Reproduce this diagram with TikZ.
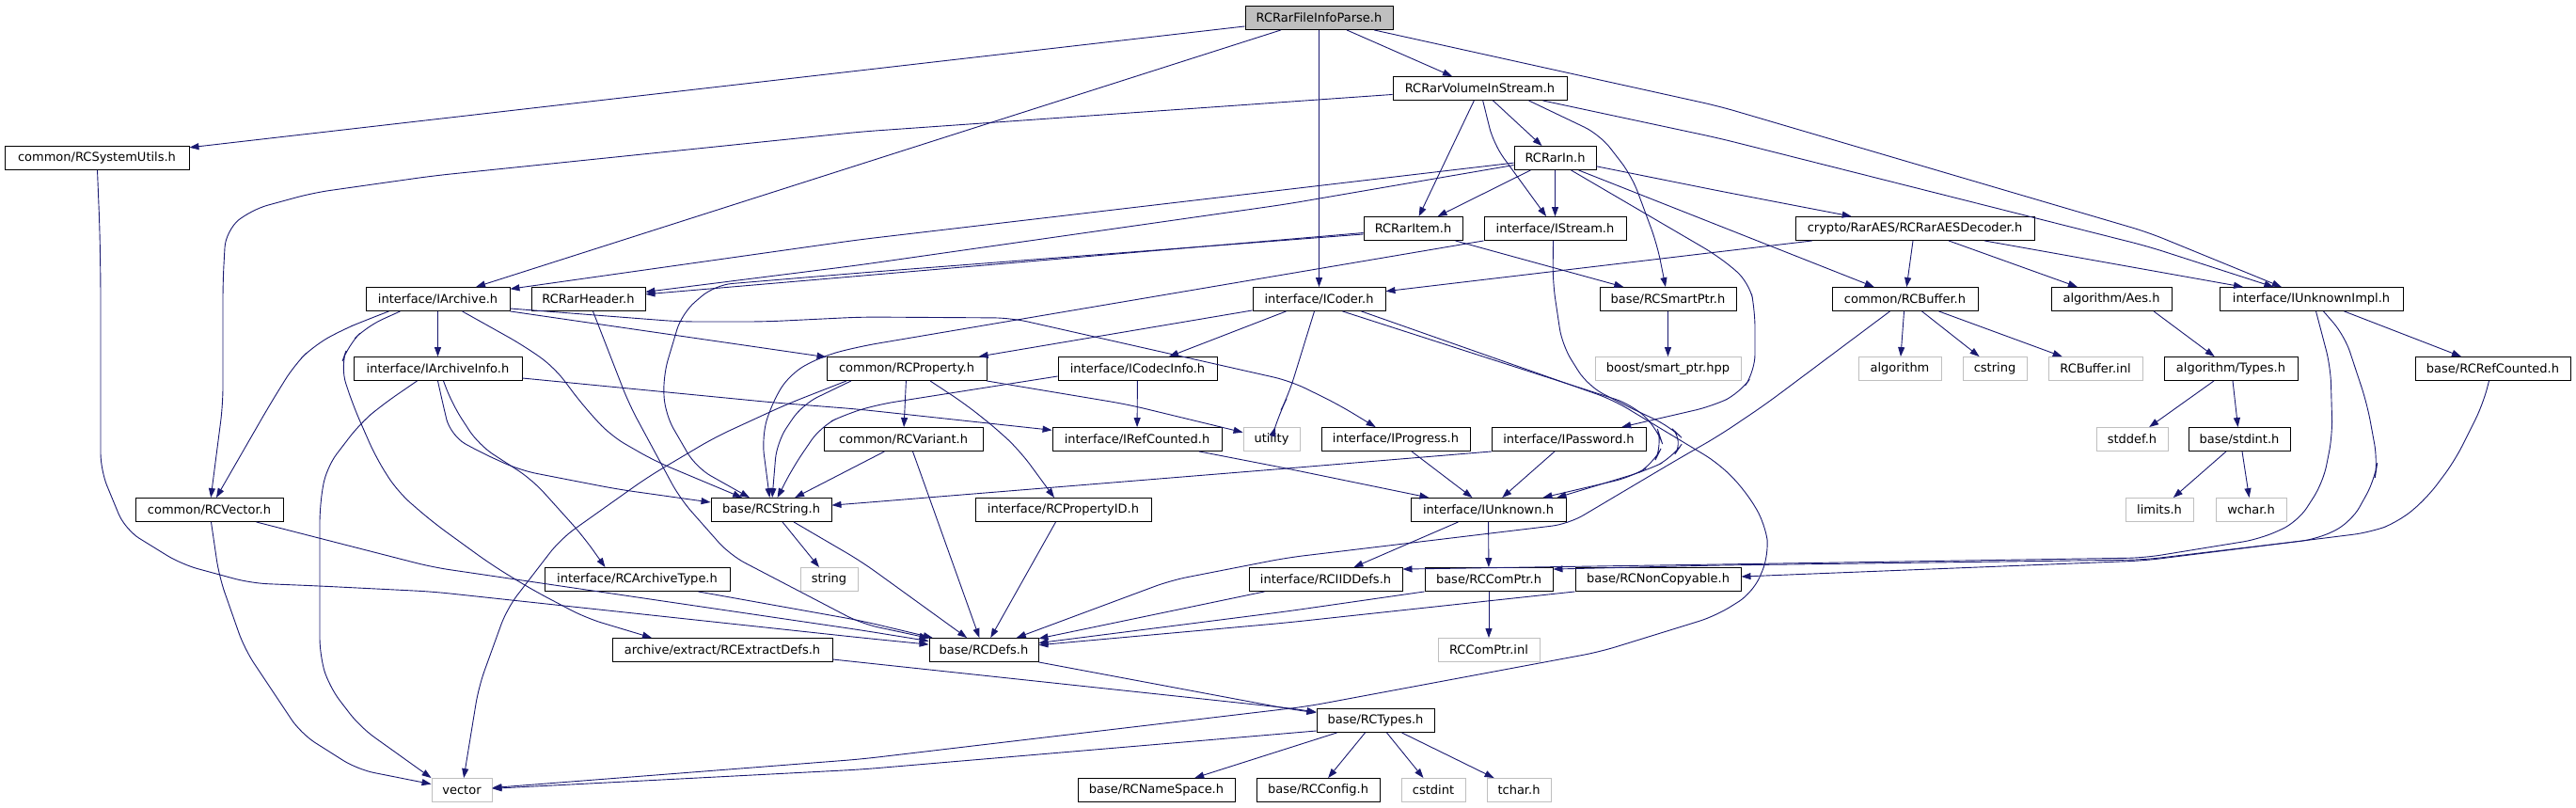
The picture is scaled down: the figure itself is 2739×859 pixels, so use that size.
\documentclass[tikz,border=0pt]{standalone}
\usepackage{fontspec}
\setmainfont{DejaVu Sans}
\usetikzlibrary{arrows.meta}
\definecolor{edgec}{HTML}{191970}
\definecolor{sysgray}{HTML}{BFBFBF}
\tikzset{
 hdr/.style={draw=black, line width=0.9pt, rectangle, minimum height=25pt, inner sep=0pt, font=\fontsize{13}{15}\selectfont, text=black},
 sysh/.style={hdr, draw=sysgray},
 rooth/.style={hdr, fill=sysgray},
 dep/.style={draw=edgec, line width=0.9pt, rounded corners=18pt, -{Triangle[length=10pt,width=7pt]}},
}
\begin{document}
\begin{tikzpicture}[x=1pt,y=-1pt]
\useasboundingbox (0,0) rectangle (2739,859);
% row 0
\node[rooth, minimum width=157pt] (root) at (1402.5,19) {RCRarFileInfoParse.h};
% row 1
\node[hdr, minimum width=185pt] (vol) at (1573.5,94) {RCRarVolumeInStream.h};
% row 2
\node[hdr, minimum width=196pt] (sysutils) at (103,168) {common/RCSystemUtils.h};
\node[hdr, minimum width=87pt] (rarin) at (1653.5,168) {RCRarIn.h};
% row 3
\node[hdr, minimum width=105pt] (raritem) at (1502.5,243) {RCRarItem.h};
\node[hdr, minimum width=151pt] (istream) at (1653.5,243) {interface/IStream.h};
\node[hdr, minimum width=254pt] (aesdec) at (2036,243) {crypto/RarAES/RCRarAESDecoder.h};
% row 4
\node[hdr, minimum width=153pt] (iarchive) at (465.5,318) {interface/IArchive.h};
\node[hdr, minimum width=121pt] (rarheader) at (625.5,318) {RCRarHeader.h};
\node[hdr, minimum width=141pt] (icoder) at (1402.5,318) {interface/ICoder.h};
\node[hdr, minimum width=145pt] (smartptr) at (1773.5,318) {base/RCSmartPtr.h};
\node[hdr, minimum width=155pt] (buffer) at (2025.5,318) {common/RCBuffer.h};
\node[hdr, minimum width=128pt] (aes) at (2245,318) {algorithm/Aes.h};
\node[hdr, minimum width=195pt] (unkimpl) at (2457.5,318) {interface/IUnknownImpl.h};
% row 5
\node[hdr, minimum width=179pt] (archinfo) at (465.5,392) {interface/IArchiveInfo.h};
\node[hdr, minimum width=170pt] (property) at (964,392) {common/RCProperty.h};
\node[hdr, minimum width=169pt] (codecinfo) at (1209.5,392) {interface/ICodecInfo.h};
\node[sysh, minimum width=155pt] (boostsp) at (1773.5,392) {boost/smart\_ptr.hpp};
\node[sysh, minimum width=88pt] (algorithm) at (2020,392) {algorithm};
\node[sysh, minimum width=68pt] (cstring) at (2121,392) {cstring};
\node[sysh, minimum width=100pt] (bufinl) at (2228,392) {RCBuffer.inl};
\node[hdr, minimum width=142pt] (types) at (2372,392) {algorithm/Types.h};
\node[hdr, minimum width=165pt] (refcounted) at (2650.5,392) {base/RCRefCounted.h};
% row 6
\node[hdr, minimum width=169pt] (variant) at (960.5,467) {common/RCVariant.h};
\node[hdr, minimum width=180pt] (refcntif) at (1209,467) {interface/IRefCounted.h};
\node[sysh, minimum width=60pt] (utility) at (1352,467) {utility};
\node[hdr, minimum width=158pt] (progress) at (1484,467) {interface/IProgress.h};
\node[hdr, minimum width=164pt] (password) at (1668,467) {interface/IPassword.h};
\node[sysh, minimum width=76pt] (stddef) at (2267,467) {stddef.h};
\node[hdr, minimum width=108pt] (stdint) at (2381,467) {base/stdint.h};
% row 7
\node[hdr, minimum width=157pt] (vectorh) at (222.5,542) {common/RCVector.h};
\node[hdr, minimum width=128pt] (rcstring) at (820,542) {base/RCString.h};
\node[hdr, minimum width=187pt] (propid) at (1130.5,542) {interface/RCPropertyID.h};
\node[hdr, minimum width=165pt] (iunknown) at (1582.5,542) {interface/IUnknown.h};
\node[sysh, minimum width=72pt] (limits) at (2296,542) {limits.h};
\node[sysh, minimum width=75pt] (wchar) at (2393.5,542) {wchar.h};
% row 8
\node[hdr, minimum width=197pt] (archtype) at (677.5,616) {interface/RCArchiveType.h};
\node[sysh, minimum width=61pt] (string) at (881.5,616) {string};
\node[hdr, minimum width=163pt] (iiddefs) at (1409.5,616) {interface/RCIIDDefs.h};
\node[hdr, minimum width=136pt] (comptr) at (1583,616) {base/RCComPtr.h};
\node[hdr, minimum width=176pt] (noncopy) at (1763,616) {base/RCNonCopyable.h};
% row 9
\node[hdr, minimum width=234pt] (extract) at (768,691) {archive/extract/RCExtractDefs.h};
\node[hdr, minimum width=116pt] (defs) at (1046,691) {base/RCDefs.h};
\node[sysh, minimum width=108pt] (comptrinl) at (1583,691) {RCComPtr.inl};
% row 10
\node[hdr, minimum width=125pt] (rctypes) at (1462.5,766) {base/RCTypes.h};
% row 11
\node[sysh, minimum width=64pt] (vector) at (491,840) {vector};
\node[hdr, minimum width=167pt] (namespace) at (1229.5,840) {base/RCNameSpace.h};
\node[hdr, minimum width=131pt] (config) at (1401.5,840) {base/RCConfig.h};
\node[sysh, minimum width=68pt] (cstdint) at (1524,840) {cstdint};
\node[sysh, minimum width=68pt] (tchar) at (1615,840) {tchar.h};

% ---- edges from root
\draw[dep] (root) -- (sysutils);
\draw[dep] (root) -- (iarchive);
\draw[dep] (root) -- (icoder);
\draw[dep] (root) -- (vol);
\draw[dep] (root) -- (1828,113) -- (2284,247) -- (unkimpl);
% ---- RCRarVolumeInStream
\draw[dep] (vol) -- (916,140) -- (460,187) -- (333,205) -- (267,223) -- (240,245) -- (237,300) -- (237,430) -- (vectorh);
\draw[dep] (vol) -- (raritem);
\draw[dep] (vol) -- (1588,153) -- (istream);
\draw[dep] (vol) -- (rarin);
\draw[dep] ([xshift=52pt]vol.south) -- (1701,143) -- (1735,187) -- (1762,260) -- (smartptr);
\draw[dep] ([xshift=67pt]vol.south) -- (1828,147) -- (2284,262) -- (unkimpl);
% ---- RCRarIn
\draw[dep] (rarin) -- (912,255) -- (iarchive);
\draw[dep] (rarin) -- (1368,217) -- (912,282) -- (rarheader);
\draw[dep] (rarin) -- (raritem);
\draw[dep] (rarin) -- (istream);
\draw[dep] (rarin) -- (1828,203) -- (aesdec);
\draw[dep] ([xshift=25pt]rarin.south) -- (1828,240) -- (buffer);
\draw[dep] ([xshift=17pt]rarin.south) -- (1828,273) -- (1860,300) -- (1866,330) -- (1866,395) -- (1850,418) -- (1820,432) -- (password);
% ---- RCRarItem
\draw[dep] (raritem) -- (rarheader);
\draw[dep] ([yshift=-6pt]raritem.west) -- (916,290) -- (760,303) -- (725,333) -- (705,400) -- (707,440) -- (740,497) -- (rcstring);
\draw[dep] ([xshift=45pt]raritem.south) -- (smartptr);
% ---- IStream
\draw[dep] (istream.south west) -- (916,368) -- (876,378) -- (840,397) -- (820,430) -- (810,465) -- (rcstring);
\draw[dep] ([xshift=-2pt]istream.south) -- (1651,300) -- (1661,367) -- (1688,410) -- (1730,432) -- (1775,453) -- (1791,468) -- (1778,487) -- (1751,500) -- ([xshift=-10pt]iunknown.north east);
% ---- ICoder
\draw[dep] (icoder) -- (property);
\draw[dep] ([xshift=-35pt]icoder.south) -- (codecinfo);
\draw[dep] ([xshift=-5pt]icoder.south) -- (1370,420) -- (1360,440) -- (utility);
\draw[dep] ([xshift=25pt]icoder.south) -- (1735,430) -- (1762,455) -- (1768,473) -- (1758,493) -- (1735,507) -- ([xshift=-25pt]iunknown.north east);
\draw[dep] ([xshift=45pt]icoder.south) -- (1715,425) -- (1828,493) -- (1856,522) -- (1877,557) -- (1881,590) -- (1864,630) -- (1824,655) -- (1701,693) -- (1390,751) -- (916,807) -- (vector);
% ---- AES decoder
\draw[dep] ([xshift=-109pt]aesdec.south) -- (icoder);
\draw[dep] ([xshift=-2pt]aesdec.south) -- (buffer);
\draw[dep] ([xshift=36pt]aesdec.south) -- (aes);
\draw[dep] ([xshift=74pt]aesdec.south) -- (unkimpl);
% ---- misc right side
\draw[dep] (smartptr) -- (boostsp);
\draw[dep] (buffer) -- (algorithm);
\draw[dep] ([xshift=18pt]buffer.south) -- (cstring);
\draw[dep] ([xshift=36pt]buffer.south) -- (bufinl);
\draw[dep] ([xshift=-16pt]buffer.south) -- (1877,430) -- (1828,463) -- (1781,490) -- (1668,557) -- (1368,593) -- (1245,617) -- (defs);
\draw[dep] ([xshift=45pt]aes.south) -- (types);
\draw[dep] ([xshift=-18pt]types.south) -- (stddef);
\draw[dep] ([xshift=2pt]types.south) -- (stdint);
\draw[dep] ([xshift=-14pt]stdint.south) -- (limits);
\draw[dep] ([xshift=3pt]stdint.south) -- (wchar);
\draw[dep] ([xshift=35pt]unkimpl.south) -- (refcounted);
\draw[dep] ([xshift=5pt]unkimpl.south) -- (2478,390) -- (2480,463) -- (2470,513) -- (2443,555) -- (2403,573) -- (2280,593) -- (1828,600) -- ([yshift=-2pt]iiddefs.north east);
\draw[dep] ([xshift=13pt]unkimpl.south) -- (2493,357) -- (2517,430) -- (2528,490) -- (2525,510) -- (2500,555) -- (2465,573) -- (2280,595) -- (1828,601) -- ([yshift=-2pt]comptr.north east);
\draw[dep] ([xshift=-4pt]refcounted.south) -- (2640,430) -- (2610,490) -- (2580,530) -- (2550,555) -- (2520,566) -- (2280,596) -- ([yshift=3pt]noncopy.east);
% ---- IUnknown group
\draw[dep] ([xshift=-32pt]iunknown.south) -- (iiddefs);
\draw[dep] (iunknown) -- (comptr);
\draw[dep] ([xshift=-65pt]iiddefs.south) -- (defs);
\draw[dep] (comptr.south west) -- (1368,650) -- (defs);
\draw[dep] (noncopy.south west) -- (1368,662) -- (defs);
\draw[dep] (comptr) -- (comptrinl);
% ---- IArchive
\draw[dep] (iarchive) -- (archinfo);
\draw[dep] ([xshift=-52pt]iarchive.south) -- (390,340) -- (363,351) -- (333,368) -- (313,388) -- (287,430) -- (vectorh);
\draw[dep] ([xshift=26pt]iarchive.south) -- (556,367) -- (589,390) -- (619,430) -- (649,463) -- (696,490) -- (rcstring);
\draw[dep] (iarchive.south east) -- (property);
\draw[dep] ([yshift=-10pt]iarchive.east) -- (723,342) -- (813,342) -- (916,337) -- (1075,338) -- (1372,405) -- (1423,430) -- (progress);
\draw[dep] ([xshift=-40pt]iarchive.south) -- (390,347) -- (370,367) -- (362,390) -- (375,430) -- (400,487) -- (423,523) -- (460,555) -- (522,600) -- (566,627) -- (623,657) -- ([xshift=-75pt]extract.north);
% ---- IArchiveInfo
\draw[dep] ([xshift=6pt]archinfo.south) -- (481,430) -- (509,473) -- (566,510) -- (620,570) -- ([xshift=-34pt]archtype.north);
\draw[dep] (archinfo.south) -- (471,430) -- (479,463) -- (509,480) -- (553,500) -- (656,520) -- ([yshift=8pt]rcstring.west);
\draw[dep] ([xshift=-22pt]archinfo.south) -- (407,430) -- (383,450) -- (347,497) -- (340,537) -- (340,697) -- (350,730) -- (383,773) -- (vector.north west);
\draw[dep] ([yshift=-10pt]archinfo.east) -- (823,428) -- (912,435) -- (refcntif);
% ---- left side to RCDefs
\draw[dep] (sysutils) -- (106,243) -- (107,300) -- (107,500) -- (133,563) -- (193,600) -- (267,620) -- (340,623) -- (460,629) -- (916,678) -- (defs);
\draw[dep] ([xshift=50pt]vectorh.south) -- (460,603) -- (916,670) -- (defs);
\draw[dep] ([xshift=5pt]rarheader.south) -- (669,430) -- (723,530) -- (776,590) -- (916,663) -- (defs);
\draw[dep] ([xshift=65pt]archtype.south) -- (916,660) -- (defs);
\draw[dep] ([yshift=-10pt]extract.east) -- (1372,753) -- (rctypes);
\draw[dep] (defs.south east) -- (1372,754) -- (rctypes);
% ---- RCString and friends
\draw[dep] ([xshift=12pt]rcstring.south) -- (string);
\draw[dep] ([xshift=24pt]rcstring.south) -- (916,597) -- (defs);
\draw[dep] ([xshift=-20pt]variant.south) -- (rcstring);
\draw[dep] ([xshift=10pt]variant.south) -- (defs);
\draw[dep] ([xshift=-8pt]propid.south) -- (defs);
% ---- RCProperty
\draw[dep] (property) -- (variant);
\draw[dep] ([xshift=85pt]property.south) -- (1199,430) -- (utility);
\draw[dep] ([xshift=25pt]property.south) -- (1027,430) -- (1062,458) -- (1085,480) -- (propid);
\draw[dep] ([xshift=-64pt]property.south) -- (836,430) -- (760,465) -- (689,507) -- (596,573) -- (539,647) -- (509,730) -- (vector);
\draw[dep] ([xshift=-59pt]property.south) -- (853,430) -- (826,470) -- (rcstring);
% ---- ICodecInfo, IRefCounted, IProgress, IPassword
\draw[dep] ([yshift=-8pt]codecinfo.west) -- (934,430) -- (900,440) -- (873,453) -- (843,497) -- (rcstring);
\draw[dep] (codecinfo) -- (refcntif);
\draw[dep] ([xshift=66pt]refcntif.south) -- (1368,498) -- (iunknown);
\draw[dep] ([xshift=17pt]progress.south) -- (iunknown);
\draw[dep] ([xshift=-15pt]password.south) -- (iunknown);
\draw[dep] ([xshift=-82pt]password.south) -- (1368,498) -- (912,535) -- (rcstring);
% ---- vector and RCTypes
\draw[dep] ([xshift=2pt]vectorh.south) -- (233,613) -- (260,690) -- (320,780) -- (380,818) -- (vector);
\draw[dep] ([yshift=-11pt]rctypes.west) -- (916,818) -- (vector);
\draw[dep] ([xshift=-41pt]rctypes.south) -- (namespace);
\draw[dep] ([xshift=-11pt]rctypes.south) -- (config);
\draw[dep] ([xshift=12pt]rctypes.south) -- (cstdint);
\draw[dep] ([xshift=28pt]rctypes.south) -- (tchar);
\end{tikzpicture}
\end{document}
